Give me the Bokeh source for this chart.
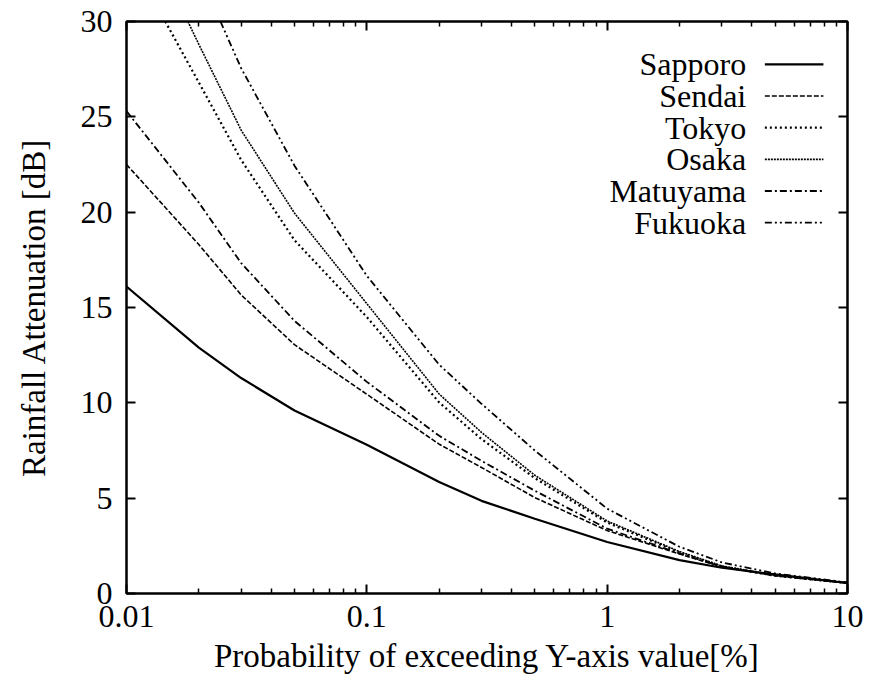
from bokeh.plotting import figure
from bokeh.models import (LogAxis, LinearAxis, FixedTicker, CustomJSTickFormatter,
                          Range1d, ColumnDataSource)
from bokeh.core.properties import value
from bokeh.embed import file_html
from bokeh.resources import INLINE

# ---------------- data ----------------
p_common = [0.01, 0.02, 0.03, 0.05, 0.1, 0.2, 0.3, 0.5, 1, 2, 3, 5, 10]

sapporo_x = p_common
sapporo_y = [16.1, 12.9, 11.3, 9.6, 7.8, 5.85, 4.86, 3.92, 2.7, 1.75, 1.35, 1.0, 0.55]

sendai_x = p_common
sendai_y = [22.5, 18.3, 15.66, 13.05, 10.45, 7.83, 6.61, 5.03, 3.3, 2.07, 1.4, 0.93, 0.55]

tokyo_x = [0.0145, 0.02, 0.03, 0.05, 0.1, 0.2, 0.3, 0.5, 1, 2, 3, 5, 10]
tokyo_y = [30, 26.8, 22.74, 18.53, 14.5, 10.02, 8.1, 6.05, 3.72, 2.15, 1.42, 0.93, 0.55]

osaka_x = [0.018, 0.02, 0.03, 0.05, 0.1, 0.2, 0.3, 0.5, 1, 2, 3, 5, 10]
osaka_y = [30, 28.8, 24.3, 19.95, 15.2, 10.46, 8.45, 6.2, 3.8, 2.2, 1.45, 0.95, 0.55]

matuyama_x = p_common
matuyama_y = [25.3, 20.5, 17.33, 14.3, 11.1, 8.27, 6.96, 5.39, 3.4, 2.1, 1.42, 0.95, 0.55]

fukuoka_x = [0.0246, 0.03, 0.05, 0.1, 0.2, 0.3, 0.5, 1, 2, 3, 5, 10]
fukuoka_y = [30, 27.55, 22.44, 16.66, 12.0, 9.95, 7.5, 4.45, 2.45, 1.63, 1.05, 0.58]

series_names = ["Sapporo", "Sendai", "Tokyo", "Osaka", "Matuyama", "Fukuoka"]
x_ticks = [0.01, 0.1, 1, 10]
y_ticks = [0, 5, 10, 15, 20, 25, 30]

# ---------------- styles ----------------
styles = {
    "Sapporo": dict(line_dash="solid", line_width=2.2),
    "Sendai": dict(line_dash="5 2", line_width=1.6),
    "Tokyo": dict(line_dash="2 3", line_width=2.2),
    "Osaka": dict(line_dash="2 1", line_width=1.6),
    "Matuyama": dict(line_dash="7 3 2 3", line_width=1.8),
    "Fukuoka": dict(line_dash="7 3 2 3 2 3", line_width=1.8),
}
data = {
    "Sapporo": (sapporo_x, sapporo_y),
    "Sendai": (sendai_x, sendai_y),
    "Tokyo": (tokyo_x, tokyo_y),
    "Osaka": (osaka_x, osaka_y),
    "Matuyama": (matuyama_x, matuyama_y),
    "Fukuoka": (fukuoka_x, fukuoka_y),
}

FONT = "Liberation Serif"

p = figure(x_axis_type="log",
           x_range=Range1d(x_ticks[0], x_ticks[-1]),
           y_range=Range1d(y_ticks[0], y_ticks[-1]),
           frame_width=721, frame_height=572,
           min_border_left=126, min_border_right=23,
           min_border_top=21, min_border_bottom=80,
           output_backend="svg", toolbar_location=None,
           background_fill_color="white", border_fill_color="white")
p.grid.visible = False
p.outline_line_color = "black"
p.outline_line_width = 2

minor = [m * d for d in x_ticks[:-1] for m in range(2, 10)]
xt = FixedTicker(ticks=x_ticks, minor_ticks=minor)
yt = FixedTicker(ticks=y_ticks)
fmt = CustomJSTickFormatter(code="return String(tick);")
blank = CustomJSTickFormatter(code="return '';")

def style_axis(ax, show_labels):
    ax.axis_line_width = 2
    ax.axis_line_color = "black"
    ax.major_tick_in = 9
    ax.major_tick_out = 0
    ax.minor_tick_in = 5
    ax.minor_tick_out = 0
    ax.major_tick_line_width = 2
    ax.minor_tick_line_width = 1.5
    ax.major_label_text_font = FONT
    if show_labels:
        ax.major_label_text_font_size = "32px"
        ax.major_label_text_color = "black"
        ax.axis_label_text_font = FONT
        ax.axis_label_text_font_size = "33px"
        ax.axis_label_text_font_style = "normal"
        ax.axis_label_text_color = "black"
    else:
        ax.formatter = blank
        ax.major_label_text_font_size = "2px"
        ax.major_label_standoff = 0

xa = p.xaxis[0]
xa.ticker = xt
xa.formatter = fmt
xa.axis_label = "Probability of exceeding Y-axis value[%]"
style_axis(xa, True)
xa.major_label_standoff = 12
xa.axis_label_standoff = 8

ya = p.yaxis[0]
ya.ticker = yt
ya.axis_label = "Rainfall Attenuation [dB]"
style_axis(ya, True)
ya.major_label_standoff = 14
ya.axis_label_standoff = 26
ya.minor_tick_in = 0

top = LogAxis(ticker=xt)
style_axis(top, False)
p.add_layout(top, "above")
right = LinearAxis(ticker=yt)
style_axis(right, False)
right.minor_tick_in = 0
p.add_layout(right, "right")

for name in series_names:
    xs, ys = data[name]
    src = ColumnDataSource(dict(x=xs, y=ys))
    p.line("x", "y", source=src, line_color="black", **styles[name])

# ---------------- legend (top-right, text left of the sample) ----------------
leg_top = 27.75
leg_step = 1.66
leg_text_x = 3.79
leg_line_x0 = 4.53
leg_line_x1 = 7.94
for i, name in enumerate(series_names):
    yy = leg_top - i * leg_step
    p.text(x=[leg_text_x], y=[yy], text=[name], text_align="right",
           text_baseline="middle", text_font=value(FONT),
           text_font_size="32px", text_color="black")
    p.segment(x0=[leg_line_x0], y0=[yy], x1=[leg_line_x1], y1=[yy],
              line_color="black", **styles[name])

open("out.html", "w").write(file_html(p, INLINE))
